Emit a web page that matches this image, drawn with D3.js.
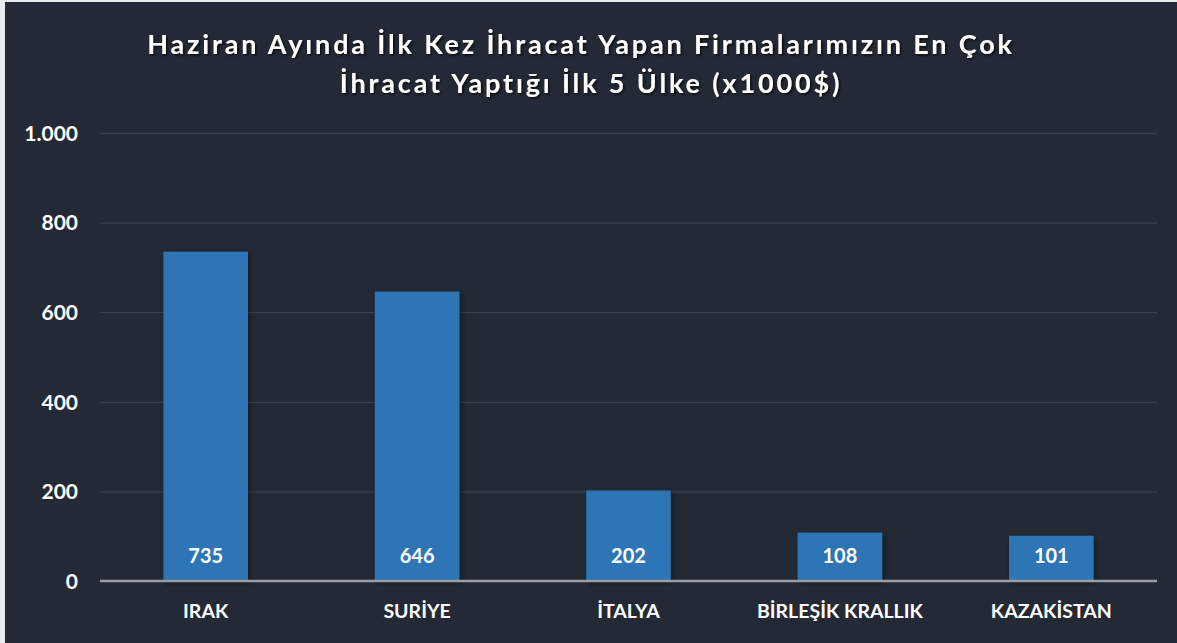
<!DOCTYPE html>
<html><head><meta charset="utf-8">
<script src="https://cdn.jsdelivr.net/npm/d3@7"></script>
<style>
html,body{margin:0;padding:0;background:#e8eef0;}
svg{display:block;}
text{font-family:Lato, "Open Sans", sans-serif;font-weight:bold;fill:#ffffff;}
</style></head>
<body>
<svg id="chart" width="1177" height="643"></svg>
<script>
const categories = ["IRAK", "SURİYE", "İTALYA", "BİRLEŞİK KRALLIK", "KAZAKİSTAN"];
const values = [735, 646, 202, 108, 101];
const yTicks = [0, 200, 400, 600, 800, 1000];
const tickLabels = ["0", "200", "400", "600", "800", "1.000"];
const titleLines = ["Haziran Ayında İlk Kez İhracat Yapan Firmalarımızın En Çok", "İhracat Yaptığı İlk 5 Ülke (x1000$)"];

const svg = d3.select("#chart");
const W = 1177, H = 643;
const defs = svg.append("defs");
const f = defs.append("filter").attr("id","sh").attr("x","-20%").attr("y","-20%").attr("width","140%").attr("height","140%");
f.append("feDropShadow").attr("dx",2).attr("dy",2).attr("stdDeviation",3).attr("flood-color","#000").attr("flood-opacity",0.45);
const tf = defs.append("filter").attr("id","tsh").attr("x","-5%").attr("y","-30%").attr("width","110%").attr("height","160%");
tf.append("feDropShadow").attr("dx",1.5).attr("dy",1.5).attr("stdDeviation",1.2).attr("flood-color","#000").attr("flood-opacity",0.7);

svg.append("rect").attr("x",5).attr("y",2).attr("width",W-5).attr("height",H-2).attr("fill","#232a35");

const m = {left:100, right:1157, top:133, bottom:581};
const x = d3.scaleBand().domain(categories).range([m.left, m.right]).paddingInner(0.6).paddingOuter(0.3);
const y = d3.scaleLinear().domain([0,1000]).range([m.bottom, m.top]);

// title
const title = svg.append("text").attr("text-anchor","middle").attr("filter","url(#tsh)")
  .style("font-size","27px").style("letter-spacing","2.85px");
titleLines.forEach((t,i)=>{
  title.append("tspan").attr("x",i===0?581:591).attr("y",54+i*39).text(t);
});

// gridlines
const yAxis = d3.axisLeft(y).tickValues(yTicks).tickSize(-(m.right-m.left)).tickPadding(22)
  .tickFormat((d,i)=>tickLabels[i]);
const ga = svg.append("g").attr("transform",`translate(${m.left},0)`).call(yAxis);
ga.select(".domain").remove();
ga.selectAll(".tick line").attr("stroke","#3b424e").attr("stroke-width",1.3);
ga.selectAll(".tick text").style("font-size","21px").attr("fill","#fff").attr("dy","0.35em");
ga.selectAll(".tick").filter(d=>d===0).select("line").attr("stroke","none");

// bars
svg.append("g").selectAll("rect").data(values).join("rect")
  .attr("x",(d,i)=>x(categories[i]))
  .attr("width",x.bandwidth())
  .attr("y",d=>y(d))
  .attr("height",d=>y(0)-y(d))
  .attr("fill","#2e75b6")
  .attr("filter","url(#sh)");

// zero axis line
svg.append("line").attr("x1",m.left).attr("x2",m.right).attr("y1",y(0)).attr("y2",y(0))
  .attr("stroke","#9a9ea4").attr("stroke-width",2.5);

// value labels
svg.append("g").selectAll("text").data(values).join("text")
  .attr("x",(d,i)=>x(categories[i])+x.bandwidth()/2)
  .attr("y",y(0)-25)
  .attr("dy","0.35em")
  .attr("text-anchor","middle")
  .style("font-size","20px")
  .text(d=>d);

// category labels
const xAxis = d3.axisBottom(x).tickSize(0).tickPadding(23);
const gx = svg.append("g").attr("transform",`translate(0,${m.bottom})`).call(xAxis);
gx.select(".domain").remove();
gx.selectAll(".tick text").style("font-size","19.5px").attr("fill","#fff");
</script>
</body></html>
